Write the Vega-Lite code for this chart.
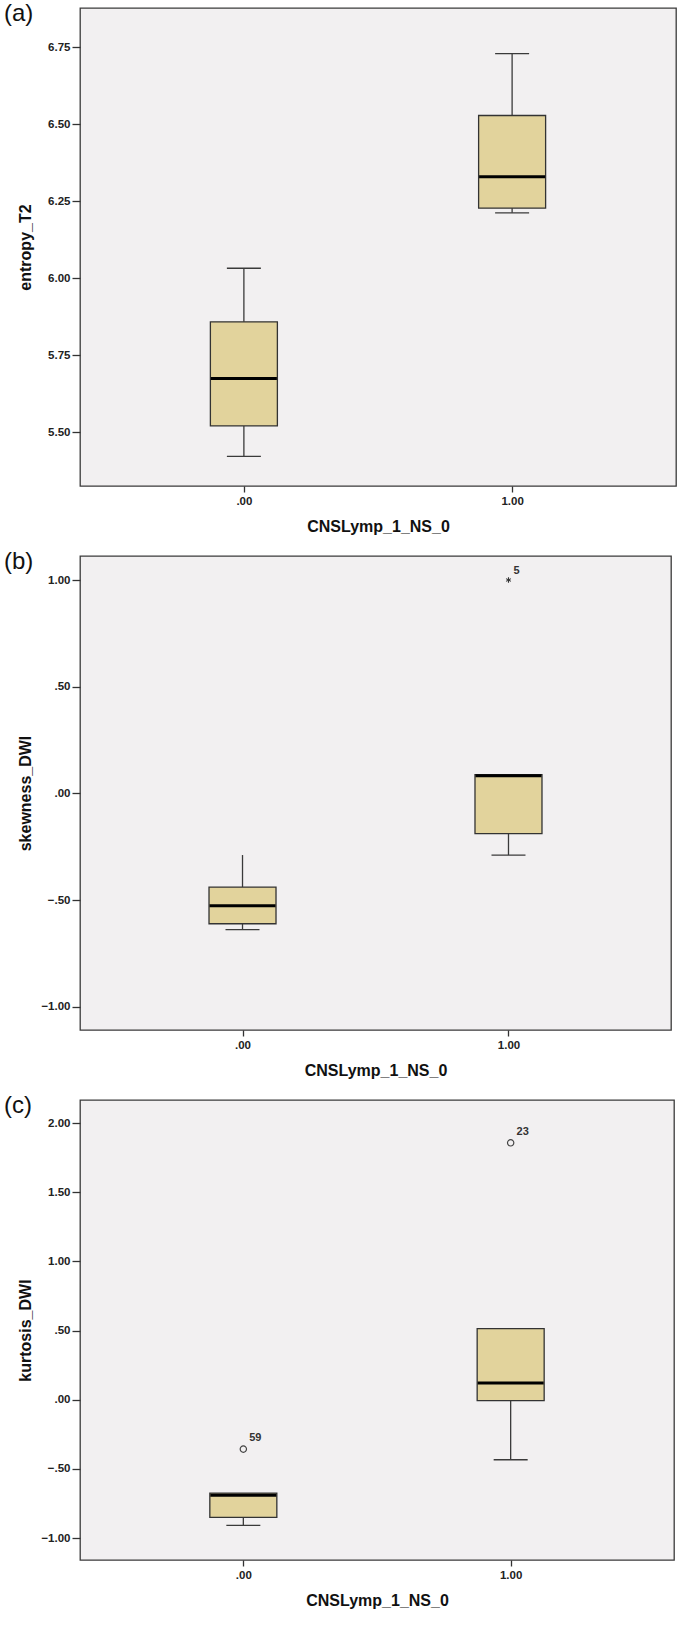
{
  "$schema": "https://vega.github.io/schema/vega-lite/v6.json",
  "background": "white",
  "padding": {"left": 3, "top": 1, "right": 0, "bottom": 5},
  "bounds": "flush",
  "spacing": 70,
  "datasets": {
    "entropy": [
      {"g": ".00", "lo": 5.422, "q1": 5.521, "med": 5.675, "q3": 5.859, "hi": 6.033},
      {"g": "1.00", "lo": 6.213, "q1": 6.228, "med": 6.33, "q3": 6.529, "hi": 6.73}
    ],
    "skew": [
      {"g": ".00", "lo": -0.639, "q1": -0.611, "med": -0.527, "q3": -0.439, "hi": -0.289},
      {"g": "1.00", "lo": -0.289, "q1": -0.189, "med": 0.083, "q3": 0.088, "hi": 0.088}
    ],
    "skewOut": [
      {"g": "1.00", "v": 1.0, "id": "5"}
    ],
    "kurt": [
      {"g": ".00", "lo": -0.908, "q1": -0.85, "med": -0.69, "q3": -0.675, "hi": -0.675},
      {"g": "1.00", "lo": -0.434, "q1": -0.007, "med": 0.121, "q3": 0.514, "hi": 0.514}
    ],
    "kurtOut": [
      {"g": ".00", "v": -0.357, "id": "59"},
      {"g": "1.00", "v": 1.858, "id": "23"}
    ]
  },
  "config": {
    "font": "Liberation Sans",
    "view": {"stroke": "#3a3a3a", "strokeWidth": 1.3, "fill": "#f2f0f1"},
    "tick": {"opacity": 1},
    "axis": {
      "domain": false,
      "grid": false,
      "tickColor": "#333333",
      "tickWidth": 1.3,
      "tickSize": 8,
      "labelFont": "Liberation Sans",
      "labelFontWeight": "bold",
      "labelFontSize": 11.5,
      "labelColor": "#222222",
      "labelPadding": 2,
      "titleFont": "Liberation Sans",
      "titleFontWeight": "bold",
      "titleFontSize": 16,
      "titleColor": "#111111"
    },
    "axisX": {"tickSize": 6, "labelPadding": 3, "titlePadding": 12},
    "axisY": {"minExtent": 44, "maxExtent": 44, "titlePadding": 3},
    "title": {"font": "Liberation Sans", "fontSize": 24, "fontWeight": "normal", "color": "#111111", "anchor": "start", "frame": "group"}
  },
  "vconcat": [
    {
      "width": 596,
      "height": 478,
      "title": {"text": "(a)", "dx": -76, "dy": 22},
      "data": {"name": "entropy"},
      "encoding": {
        "x": {"field": "g", "type": "nominal", "sort": [".00", "1.00"], "scale": {"type": "point", "padding": 0.611}, "axis": {"labelAngle": 0}, "title": "CNSLymp_1_NS_0"}
      },
      "layer": [
        {"mark": {"type": "rule", "color": "#3a3a3a", "strokeWidth": 1.3},
         "encoding": {"y": {"field": "lo", "type": "quantitative", "scale": {"domain": [5.326, 6.878], "nice": false, "zero": false}, "axis": {"values": [5.5, 5.75, 6.0, 6.25, 6.5, 6.75], "format": ".2f"}, "title": "entropy_T2"}, "y2": {"field": "hi"}}},
        {"mark": {"type": "tick", "color": "#3a3a3a", "size": 34, "thickness": 1.3, "opacity": 1}, "encoding": {"y": {"field": "lo", "type": "quantitative"}}},
        {"mark": {"type": "tick", "color": "#3a3a3a", "size": 34, "thickness": 1.3, "opacity": 1}, "encoding": {"y": {"field": "hi", "type": "quantitative"}}},
        {"mark": {"type": "bar", "size": 67, "fill": "#e2d39c", "stroke": "#333333", "strokeWidth": 1.3},
         "encoding": {"y": {"field": "q1", "type": "quantitative"}, "y2": {"field": "q3"}}},
        {"mark": {"type": "tick", "color": "#000000", "size": 66, "thickness": 3, "opacity": 1}, "encoding": {"y": {"field": "med", "type": "quantitative"}}}
      ]
    },
    {
      "width": 591,
      "height": 474,
      "title": {"text": "(b)", "dx": -76, "dy": 22},
      "layer": [
        {
          "data": {"name": "skew"},
          "layer": [
            {"mark": {"type": "rule", "color": "#3a3a3a", "strokeWidth": 1.3},
             "encoding": {"x": {"field": "g", "type": "nominal", "sort": [".00", "1.00"], "scale": {"type": "point", "padding": 0.611}, "axis": {"labelAngle": 0}, "title": "CNSLymp_1_NS_0"},
                          "y": {"field": "lo", "type": "quantitative", "scale": {"domain": [-1.109, 1.1125], "nice": false, "zero": false}, "axis": {"values": [-1, -0.5, 0, 0.5, 1], "labelExpr": "replace(format(datum.value, '.2f'), '0.', '.')"}, "title": "skewness_DWI"}, "y2": {"field": "hi"}}},
            {"mark": {"type": "tick", "color": "#3a3a3a", "size": 34, "thickness": 1.3, "opacity": 1}, "encoding": {"x": {"field": "g", "type": "nominal", "sort": [".00", "1.00"]}, "y": {"field": "lo", "type": "quantitative"}}},
            {"mark": {"type": "bar", "size": 67, "fill": "#e2d39c", "stroke": "#333333", "strokeWidth": 1.3},
             "encoding": {"x": {"field": "g", "type": "nominal", "sort": [".00", "1.00"]}, "y": {"field": "q1", "type": "quantitative"}, "y2": {"field": "q3"}}},
            {"mark": {"type": "tick", "color": "#000000", "size": 66, "thickness": 3, "opacity": 1}, "encoding": {"x": {"field": "g", "type": "nominal", "sort": [".00", "1.00"]}, "y": {"field": "med", "type": "quantitative"}}}
          ]
        },
        {
          "data": {"name": "skewOut"},
          "layer": [
            {"mark": {"type": "point", "shape": "M0,-1L0,1M-0.87,-0.5L0.87,0.5M-0.87,0.5L0.87,-0.5", "size": 30, "filled": false, "stroke": "#333333", "strokeWidth": 1.1, "opacity": 1},
             "encoding": {"x": {"field": "g", "type": "nominal", "sort": [".00", "1.00"]}, "y": {"field": "v", "type": "quantitative"}}},
            {"mark": {"type": "text", "dx": 8, "dy": -9, "fontSize": 11, "fontWeight": "bold", "color": "#333333", "align": "center"},
             "encoding": {"x": {"field": "g", "type": "nominal", "sort": [".00", "1.00"]}, "y": {"field": "v", "type": "quantitative"}, "text": {"field": "id"}}}
          ]
        }
      ]
    },
    {
      "width": 594,
      "height": 460,
      "title": {"text": "(c)", "dx": -76, "dy": 22},
      "layer": [
        {
          "data": {"name": "kurt"},
          "layer": [
            {"mark": {"type": "rule", "color": "#3a3a3a", "strokeWidth": 1.3},
             "encoding": {"x": {"field": "g", "type": "nominal", "sort": [".00", "1.00"], "scale": {"type": "point", "padding": 0.611}, "axis": {"labelAngle": 0}, "title": "CNSLymp_1_NS_0"},
                          "y": {"field": "lo", "type": "quantitative", "scale": {"domain": [-1.159, 2.168], "nice": false, "zero": false}, "axis": {"values": [-1, -0.5, 0, 0.5, 1, 1.5, 2], "labelExpr": "replace(format(datum.value, '.2f'), '0.', '.')"}, "title": "kurtosis_DWI"}, "y2": {"field": "hi"}}},
            {"mark": {"type": "tick", "color": "#3a3a3a", "size": 34, "thickness": 1.3, "opacity": 1}, "encoding": {"x": {"field": "g", "type": "nominal", "sort": [".00", "1.00"]}, "y": {"field": "lo", "type": "quantitative"}}},
            {"mark": {"type": "bar", "size": 67, "fill": "#e2d39c", "stroke": "#333333", "strokeWidth": 1.3},
             "encoding": {"x": {"field": "g", "type": "nominal", "sort": [".00", "1.00"]}, "y": {"field": "q1", "type": "quantitative"}, "y2": {"field": "q3"}}},
            {"mark": {"type": "tick", "color": "#000000", "size": 66, "thickness": 3, "opacity": 1}, "encoding": {"x": {"field": "g", "type": "nominal", "sort": [".00", "1.00"]}, "y": {"field": "med", "type": "quantitative"}}}
          ]
        },
        {
          "data": {"name": "kurtOut"},
          "layer": [
            {"mark": {"type": "point", "shape": "circle", "size": 40, "filled": false, "stroke": "#444444", "strokeWidth": 1.2, "opacity": 1},
             "encoding": {"x": {"field": "g", "type": "nominal", "sort": [".00", "1.00"]}, "y": {"field": "v", "type": "quantitative"}}},
            {"mark": {"type": "text", "dx": 12, "dy": -11, "fontSize": 11, "fontWeight": "bold", "color": "#333333", "align": "center"},
             "encoding": {"x": {"field": "g", "type": "nominal", "sort": [".00", "1.00"]}, "y": {"field": "v", "type": "quantitative"}, "text": {"field": "id"}}}
          ]
        }
      ]
    }
  ]
}
